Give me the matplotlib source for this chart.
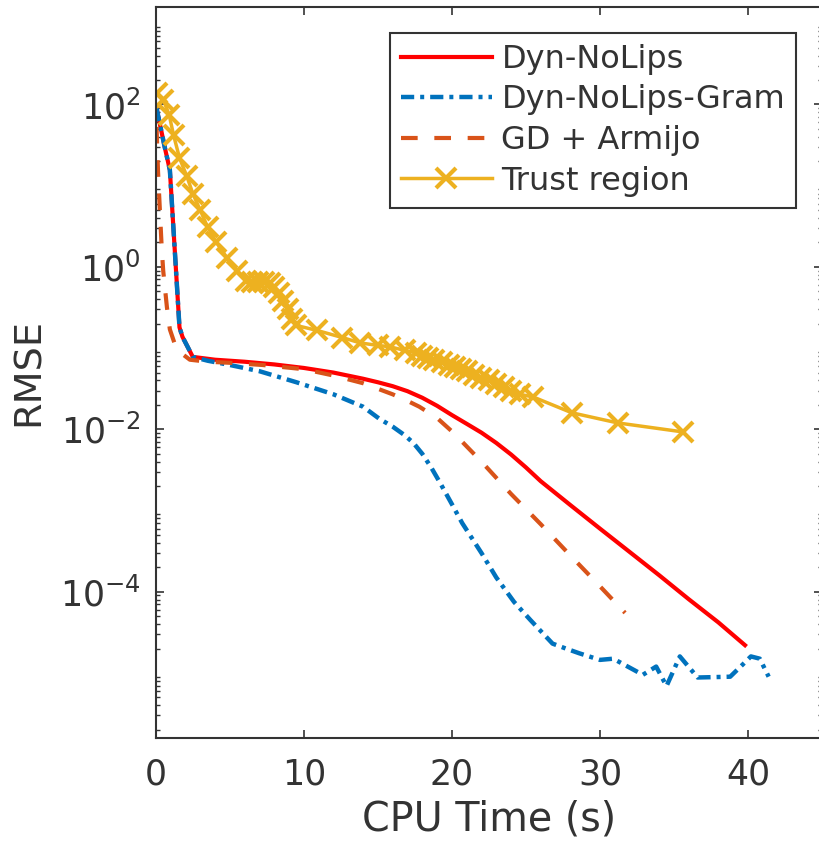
import numpy as np
import matplotlib
matplotlib.use("Agg")
import matplotlib.pyplot as plt

# Dyn-NoLips (red solid)
t_dyn = [0.05, 0.6, 0.95, 1.6, 1.8, 2.5, 4, 6, 8, 10, 12, 14, 15, 16, 17, 18, 19, 20, 21, 22,
         23, 24, 25, 26, 28, 30, 32, 34, 36, 38, 39.8]
e_dyn = [90, 30, 15.6, 0.18, 0.138, 0.078, 0.072, 0.068, 0.063, 0.057, 0.05, 0.042, 0.038,
         0.034, 0.0295, 0.0245, 0.0195, 0.015, 0.0117, 0.0091, 0.0068, 0.0049, 0.0034, 0.0023,
         0.00117, 6.0e-4, 3.1e-4, 1.6e-4, 8.1e-5, 4.2e-5, 2.2e-5]

# Dyn-NoLips-Gram (blue dash-dot)
t_gram = [0.05, 0.6, 0.95, 1.6, 1.8, 2.5, 3.5, 5, 7, 9.5, 12, 14, 15.1, 16.0, 16.8, 17.4, 18.0,
          18.6, 19.2, 20.0, 20.7, 22, 23, 24.2, 25.3, 26.8, 27.7, 28.6, 30, 30.9, 32.9, 33.8,
          34.5, 35.4, 36.6, 38.8, 39.7, 40.2, 40.8, 41.4]
e_gram = [90, 30, 15.6, 0.18, 0.138, 0.078, 0.07, 0.062, 0.052, 0.038, 0.027, 0.019, 0.0135,
          0.0108, 0.0085, 0.0068, 0.005, 0.0034, 0.0022, 0.0012, 7e-4, 3e-4, 1.5e-4, 7.5e-5,
          4.5e-5, 2.3e-5, 2.0e-5, 1.75e-5, 1.45e-5, 1.5e-5, 9.5e-6, 1.2e-5, 6.9e-6, 1.6e-5,
          8.8e-6, 9e-6, 1.3e-5, 1.6e-5, 1.5e-5, 9e-6]

# GD + Armijo (orange dashed)
t_gd = [0.05, 0.15, 0.3, 0.4, 0.5, 0.75, 0.95, 1.3, 1.6, 2.3, 3.5, 5, 7.2, 10, 12, 14, 16,
        17, 17.8, 19, 20.1, 22, 24, 26, 28, 30, 31.7]
e_gd = [53, 15, 4, 1.7, 0.9, 0.32, 0.17, 0.11, 0.09, 0.072, 0.068, 0.066, 0.062, 0.055, 0.046,
        0.037, 0.027, 0.0224, 0.019, 0.0138, 0.0091, 0.004, 0.0016, 6.8e-4, 2.8e-4, 1.17e-4,
        5.5e-5]

# Trust region (yellow, x markers)
t_tr = [0.05, 0.5, 0.9, 1.2, 1.6, 2.1, 2.5, 3.0, 3.5, 4.1, 4.8, 5.5, 6.1, 6.5, 6.9, 7.3, 7.7,
        8.0, 8.3, 8.6, 8.9, 9.2, 9.5, 10.9, 12.6, 13.8, 15.0, 15.8, 16.8, 17.6, 18.0, 18.4,
        18.8, 19.3, 19.8, 20.2, 20.6, 21.0, 21.5, 22.0, 22.5, 23.0, 23.5, 24.0, 24.6, 25.5,
        28.1, 31.2, 35.6]
e_tr = [140, 115, 75, 42, 22, 13, 8, 5, 3.1, 2.0, 1.3, 0.9, 0.68, 0.66, 0.65, 0.65, 0.63,
        0.57, 0.48, 0.38, 0.3, 0.23, 0.19, 0.165, 0.135, 0.116, 0.108, 0.104, 0.094, 0.087,
        0.080, 0.076, 0.072, 0.067, 0.062, 0.058, 0.055, 0.052, 0.047, 0.043, 0.040, 0.036,
        0.033, 0.030, 0.027, 0.025, 0.016, 0.012, 0.0093]

dark = (0.2, 0.2, 0.2)
plt.rcParams['lines.scale_dashes'] = False
plt.rcParams['text.color'] = dark
plt.rcParams['axes.labelcolor'] = dark
plt.rcParams['xtick.color'] = dark
plt.rcParams['ytick.color'] = dark

fig = plt.figure(figsize=(8.2, 8.46), dpi=100)
ax = fig.add_axes([0.19, 0.1277, 0.8124, 0.864])

ax.plot(t_dyn, e_dyn, color='#FF0000', lw=3, label='Dyn-NoLips')
ax.plot(t_gram, e_gram, color='#0072BD', lw=3.2, linestyle=(0, (9.5, 4.3, 2.9, 4.3)),
        label='Dyn-NoLips-Gram')
ax.plot(t_gd, e_gd, color='#D95319', lw=3, linestyle=(0, (12, 12)), label='GD + Armijo')
ax.plot(t_tr, e_tr, color='#EDB120', lw=2.5, marker='x', markersize=14, markeredgewidth=3,
        label='Trust region')

ax.set_yscale('log')
ax.set_xlim(0, 45)
ax.set_ylim(10 ** -5.8, 10 ** 3.2)
ax.set_xticks([0, 10, 20, 30, 40])
ax.set_yticks([1e-4, 1e-2, 1e0, 1e2])

ax.tick_params(which='both', direction='in', top=True, right=True, labelsize=25)
ax.tick_params(which='major', length=6, width=1.2)
ax.tick_params(which='minor', length=3, width=1)
ax.tick_params(axis='y', pad=11)
ax.tick_params(axis='x', pad=14)
for s in ax.spines.values():
    s.set_color(dark)
    s.set_linewidth(1.5)

ax.set_xlabel('CPU Time (s)', fontsize=28.5, labelpad=6)
ax.set_ylabel('RMSE', fontsize=27.5, labelpad=9)

leg = ax.legend(loc='upper right', fontsize=23, handlelength=2.85, handletextpad=0.3,
                labelspacing=0.3, borderpad=0.35, borderaxespad=0.8, fancybox=False,
                framealpha=1)
leg.get_frame().set_edgecolor(dark)
leg.get_frame().set_linewidth(1.5)

fig.savefig('out.png', dpi=100)
